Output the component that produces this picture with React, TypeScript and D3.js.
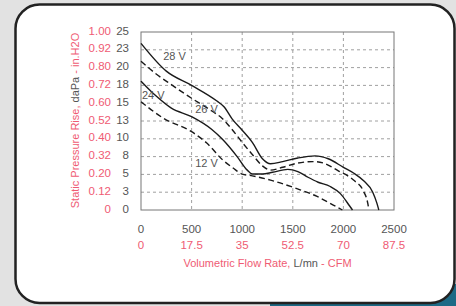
import React from "react";
import * as d3 from "d3";

const W = 456;
const H = 306;

// Flow (L/mn) ticks and CFM equivalents
const xTicks = [0, 500, 1000, 1500, 2000, 2500];
const xTicksCFM = ["0", "17.5", "35", "52.5", "70", "87.5"];

// Pressure ticks (daPa) with labels and in.H2O equivalents
const yTicks = [0, 2.5, 5, 7.5, 10, 12.5, 15, 17.5, 20, 22.5, 25];
const yTickLabels = ["0", "3", "5", "8", "10", "13", "15", "18", "20", "23", "25"];
const yTickInH2O = ["0", "0.12", "0.20", "0.32", "0.40", "0.52", "0.60", "0.72", "0.80", "0.92", "1.00"];

// Series: [flow L/mn, pressure daPa]
const v28: [number, number][] = [
  [0, 23.4], [250, 19.5], [500, 17.5], [750, 15.3], [820, 14.5], [900, 12.8],
  [1000, 11.2], [1100, 9.5], [1200, 7.2], [1280, 6.5], [1400, 6.8], [1550, 7.3],
  [1720, 7.6], [1850, 7.2], [2000, 6.0], [2100, 5.2], [2200, 4.1], [2290, 2.5],
  [2330, 1.0], [2350, 0],
];
const v26: [number, number][] = [
  [0, 20.9], [150, 19.1], [300, 17.6], [500, 15.7], [700, 13.9], [800, 12.9],
  [900, 11.3], [1000, 9.5], [1100, 7.8], [1200, 6.2], [1280, 5.6], [1400, 6.0],
  [1550, 6.6], [1700, 6.8], [1800, 6.6], [1950, 5.5], [2100, 4.2], [2200, 2.6],
  [2240, 1.0], [2252, 0],
];
const v24: [number, number][] = [
  [0, 18.1], [150, 16.0], [300, 14.3], [500, 13.1], [700, 11.3], [800, 10.0],
  [950, 7.5], [1050, 5.6], [1100, 5.05], [1200, 5.05], [1300, 5.3], [1450, 5.7],
  [1550, 5.4], [1650, 4.6], [1750, 3.9], [1870, 3.3], [1970, 2.3], [2060, 0.6],
  [2090, 0],
];
const v12: [number, number][] = [
  [0, 15.2], [220, 12.9], [500, 11.0], [650, 9.4], [810, 7.0], [910, 5.9],
  [1000, 5.05], [1100, 4.8], [1280, 4.2], [1540, 3.0], [1740, 1.9], [1900, 0.7],
  [1990, 0],
];

const seriesNames = ["28 V", "26 V", "24 V", "12 V"];
const seriesData = [v28, v26, v24, v12];
const seriesDashed = [false, true, false, true];
// label anchor in data coords
const labelPos: [number, number][] = [[220, 21.1], [535, 13.6], [10, 15.6], [535, 6.1]];

const RED = "#ef5b73";
const GRAY = "#555";
const FONT = "'Liberation Sans', Arial, Helvetica, sans-serif";

export default function App() {
  const x = d3.scaleLinear().domain([0, 2500]).range([141, 394]);
  const y = d3.scaleLinear().domain([0, 25]).range([210, 32]);
  const line = d3
    .line<[number, number]>()
    .x((d) => x(d[0]))
    .y((d) => y(d[1]))
    .curve(d3.curveMonotoneX);

  return (
    <svg
      width={W}
      height={H}
      style={{ position: "absolute", left: 0, top: 0, fontFamily: FONT }}
    >
      <rect x={0} y={0} width={W} height={H} fill="#e2e2e2" />
      <rect x={270} y={294} width={186} height={12} fill="#1d6a86" />
      <rect x={440} y={284} width={16} height={22} fill="#1d6a86" />
      <rect
        x={15.5}
        y={4.5}
        width={439}
        height={298.5}
        rx={24}
        fill="#fff"
        stroke="#222"
        strokeWidth={2.5}
      />

      {/* grid */}
      {yTicks.slice(1, -1).map((t) => (
        <line
          key={"gy" + t}
          x1={x(0)}
          x2={x(2500)}
          y1={y(t)}
          y2={y(t)}
          stroke="#888"
          strokeWidth={0.8}
          strokeDasharray="3,3"
        />
      ))}
      {xTicks.slice(1, -1).map((t) => (
        <line
          key={"gx" + t}
          x1={x(t)}
          x2={x(t)}
          y1={y(25)}
          y2={y(0)}
          stroke="#888"
          strokeWidth={0.8}
          strokeDasharray="3,3"
        />
      ))}
      <rect
        x={x(0)}
        y={y(25)}
        width={x(2500) - x(0)}
        height={y(0) - y(25)}
        fill="none"
        stroke="#777"
        strokeWidth={1}
      />

      {/* curves */}
      {seriesData.map((s, i) => (
        <path
          key={"s" + i}
          d={line(s) || ""}
          fill="none"
          stroke="#1a1a1a"
          strokeWidth={1.4}
          strokeDasharray={seriesDashed[i] ? "6,3.5" : undefined}
        />
      ))}
      {seriesNames.map((n, i) => (
        <text
          key={"l" + i}
          x={x(labelPos[i][0])}
          y={y(labelPos[i][1])}
          fontSize={11}
          fill={GRAY}
        >
          {n}
        </text>
      ))}

      {/* y tick labels */}
      {yTicks.map((t, i) => (
        <g key={"yt" + t}>
          <text x={129} y={y(t) + 2.5} fontSize={11.5} fill={GRAY} textAnchor="end">
            {yTickLabels[i]}
          </text>
          <text x={111} y={y(t) + 2.5} fontSize={11.5} fill={RED} textAnchor="end">
            {yTickInH2O[i]}
          </text>
        </g>
      ))}

      {/* x tick labels */}
      {xTicks.map((t, i) => (
        <g key={"xt" + t}>
          <text x={x(t)} y={233} fontSize={11.5} fill={GRAY} textAnchor="middle">
            {t}
          </text>
          <text x={x(t)} y={249} fontSize={11.5} fill={RED} textAnchor="middle">
            {xTicksCFM[i]}
          </text>
        </g>
      ))}

      {/* axis titles */}
      <text x={267.5} y={267} fontSize={11} textAnchor="middle" fill={RED}>
        Volumetric Flow Rate, <tspan fill={GRAY}>L/mn</tspan> - CFM
      </text>
      <text
        transform={`translate(79,120.5) rotate(-90)`}
        fontSize={11}
        textAnchor="middle"
        fill={RED}
      >
        Static Pressure Rise, <tspan fill={GRAY}>daPa</tspan> - in.H2O
      </text>
    </svg>
  );
}
